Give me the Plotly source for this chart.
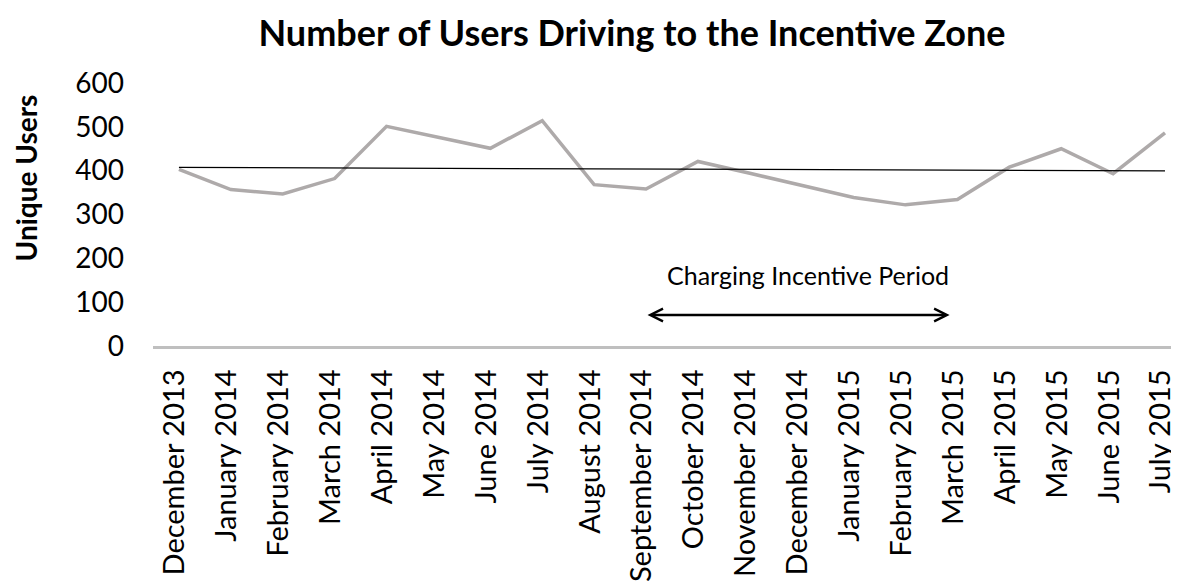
import numpy as np
import plotly.graph_objects as go

months = ["December 2013", "January 2014", "February 2014", "March 2014", "April 2014",
          "May 2014", "June 2014", "July 2014", "August 2014", "September 2014",
          "October 2014", "November 2014", "December 2014", "January 2015", "February 2015",
          "March 2015", "April 2015", "May 2015", "June 2015", "July 2015"]
unique_users = [403, 357, 347, 382, 501, 477, 451, 514, 368, 358,
                421, 394, 366, 339, 322, 334, 408, 450, 393, 486]
y_ticks = [0, 100, 200, 300, 400, 500, 600]

# Linear trendline (Excel-style) fitted to the series
idx = np.arange(len(unique_users))
slope, intercept = np.polyfit(idx, unique_users, 1)
trend = slope * idx + intercept

FONT = "Lato"
W, H = 1171, 573  # page body adds an 8px offset

fig = go.Figure()
fig.add_trace(go.Scatter(x=months, y=unique_users, mode="lines",
                         line=dict(color="#AEAAAA", width=3.5), showlegend=False))
fig.add_trace(go.Scatter(x=months, y=trend, mode="lines",
                         line=dict(color="#000000", width=1.2), showlegend=False))

period_start = months.index("September 2014")
period_end = months.index("March 2015") - 0.15
arrow_level = 71

fig.add_annotation(x=period_end, y=arrow_level, ax=period_start, ay=arrow_level,
                   xref="x", yref="y", axref="x", ayref="y", text="",
                   showarrow=True, arrowside="end+start", arrowhead=5,
                   arrowwidth=2.5, arrowsize=1, arrowcolor="#000000")
fig.add_annotation(x=(period_start + period_end) / 2 + 0.2, y=162, xref="x", yref="y",
                   text="Charging Incentive Period", showarrow=False,
                   font=dict(family=FONT, size=25, color="#000000"))

fig.add_annotation(x=-0.1238, y=0.641, xref="paper", yref="paper",
                   xanchor="center", yanchor="middle", borderpad=0,
                   text="<b>Unique Users</b>", textangle=-90, showarrow=False,
                   font=dict(family=FONT, size=28, color="#000000"))

fig.update_layout(
    width=W, height=H,
    margin=dict(l=145, r=0, t=75, b=235),
    paper_bgcolor="white", plot_bgcolor="white",
    title=dict(text="<b>Number of Users Driving to the Incentive Zone</b>",
               x=624 / W, xref="container", xanchor="center",
               y=1 - 25 / H, yref="container", yanchor="middle",
               font=dict(family=FONT, size=36, color="#000000")),
    font=dict(family=FONT, color="#000000"),
)
fig.update_xaxes(type="category", range=[-0.5, 19.27], showline=True,
                 linecolor="#BFBFBF", linewidth=2.5, showgrid=False, zeroline=False,
                 ticks="", tickangle=-90, ticklabelstandoff=9, ticklabelshift=-4,
                 automargin=False,
                 tickfont=dict(family=FONT, size=29, color="#000000"))
fig.update_yaxes(range=[0, 600], tickvals=y_ticks, showline=False, showgrid=False,
                 zeroline=False, ticks="", ticklabelstandoff=28, automargin=False,
                 tickfont=dict(family=FONT, size=28, color="#000000"))

fig.write_html("out.html")
